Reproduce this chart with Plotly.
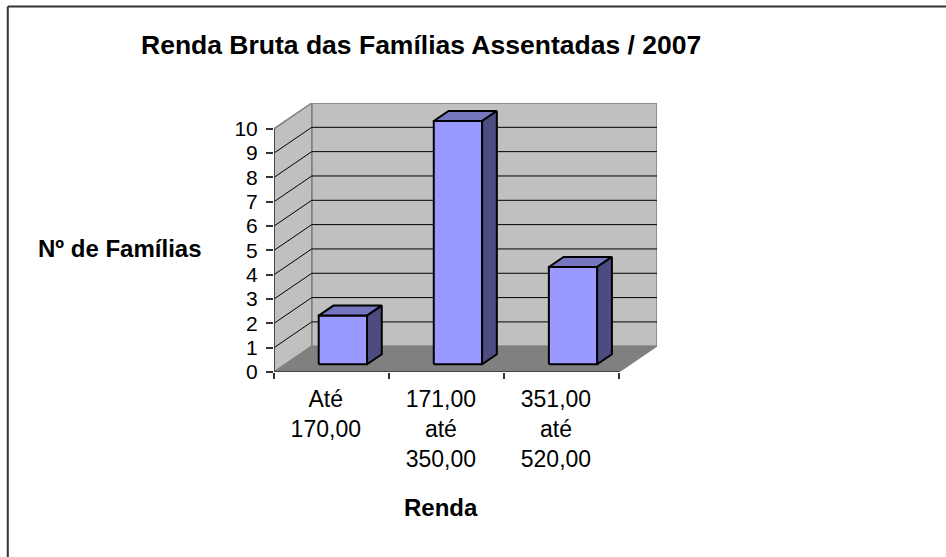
import plotly.graph_objects as go

# ---- data ----
categories = ["Até<br>170,00", "171,00<br>até<br>350,00", "351,00<br>até<br>520,00"]
familias = [2, 10, 4]
y_ticks = list(range(0, 11))
title_text = "Renda Bruta das Famílias Assentadas / 2007"
y_title = "Nº de Famílias"
x_title = "Renda"

# ---- styling / geometry ----
W, H = 946, 557
L, R, T, B = 274, 289.3, 103, 185.3
DX, DY = 0.328, 1.059          # depth vector (data units)
F_FRONT, F_BACK = 0.30, 0.69   # bar depth position (fraction of depth)
BW = 0.42                      # bar width (category units)
YMAX = 10
FONT = "Arial, Liberation Sans, sans-serif"
FRONT_C, TOP_C, SIDE_C = "#9999FF", "#7575C0", "#4C4C80"
WALL_C, FLOOR_C, WALL_LINE = "#C0C0C0", "#808080", "#808080"

n = len(categories)
x0, x1 = -0.5, n - 0.5

fig = go.Figure()

def poly(xs, ys, fill, line_color, lw):
    fig.add_trace(go.Scatter(
        x=list(xs) + [xs[0]], y=list(ys) + [ys[0]], mode="lines", fill="toself",
        fillcolor=fill, line=dict(color=line_color, width=lw),
        hoverinfo="skip", showlegend=False))

def seg(xs, ys, color, lw):
    fig.add_trace(go.Scatter(x=xs, y=ys, mode="lines", line=dict(color=color, width=lw),
                             hoverinfo="skip", showlegend=False))

# back wall
poly([x0 + DX, x1 + DX, x1 + DX, x0 + DX], [DY, DY, YMAX + DY, YMAX + DY], WALL_C, WALL_LINE, 1.5)
# side wall
poly([x0, x0 + DX, x0 + DX, x0], [0, DY, YMAX + DY, YMAX], WALL_C, WALL_LINE, 1.5)
# floor
poly([x0, x1, x1 + DX, x0 + DX], [0, 0, DY, DY], FLOOR_C, FLOOR_C, 1)

# gridlines
for v in y_ticks:
    if v == 0 or v == YMAX:
        continue
    seg([x0, x0 + DX, x1 + DX], [v, v + DY, v + DY], "black", 1)

# front axis lines
seg([x0, x0], [0, YMAX], "#333333", 1.5)
seg([x0, x1], [0, 0], "#333333", 1.5)

# bars
for i, v in enumerate(familias):
    xl, xr = i - BW / 2, i + BW / 2
    fx, fy = F_FRONT * DX, F_FRONT * DY
    bx, by = F_BACK * DX, F_BACK * DY
    poly([xl + fx, xr + fx, xr + fx, xl + fx], [fy, fy, v + fy, v + fy], FRONT_C, "black", 2)
    poly([xl + fx, xr + fx, xr + bx, xl + bx], [v + fy, v + fy, v + by, v + by], TOP_C, "black", 2)
    poly([xr + fx, xr + bx, xr + bx, xr + fx], [fy, by, v + by, v + fy], SIDE_C, "black", 2)

pw, ph = W - L - R, H - T - B
def px(x):
    return (x - L) / pw
def py(y):
    return (H - y - B) / ph

annotations = [
    dict(text=f"<b>{title_text}</b>", x=px(421), y=py(45), font=dict(size=26.5)),
    dict(text=f"<b>{y_title}</b>", x=px(120), y=py(248), font=dict(size=24)),
    dict(text=f"<b>{x_title}</b>", x=px(441), y=py(507), font=dict(size=24)),
]
for a in annotations:
    a.update(xref="paper", yref="paper", showarrow=False, xanchor="center", yanchor="middle")
    a["font"].update(family=FONT, color="black")

border = dict(color="#333333", width=2)
fig.update_layout(
    width=W, height=H,
    margin=dict(l=L, r=R, t=T, b=B, pad=0),
    paper_bgcolor="white", plot_bgcolor="white",
    showlegend=False,
    annotations=annotations,
    font=dict(family=FONT, color="black"),
    shapes=[
        dict(type="line", xref="paper", yref="paper",
             x0=px(8), y0=py(6.5), x1=px(W), y1=py(6.5), line=border),
        dict(type="line", xref="paper", yref="paper",
             x0=px(8), y0=py(6.5), x1=px(8), y1=py(H), line=border),
    ],
)
fig.update_xaxes(
    range=[x0, x1 + DX], showgrid=False, zeroline=False, showline=False,
    tickmode="array", tickvals=[i - 0.05 for i in range(n)], ticktext=categories,
    ticks="", tickfont=dict(size=23, family=FONT, color="black"),
    ticklabelstandoff=11,
    minor=dict(tickmode="array", tickvals=[x0 + k for k in range(n + 1)], ticks="outside",
               ticklen=6, tickcolor="#333333", tickwidth=1.5, showgrid=False),
    fixedrange=True,
)
fig.update_yaxes(
    range=[0, YMAX + DY], showgrid=False, zeroline=False, showline=False,
    tickmode="array", tickvals=y_ticks, ticks="outside", ticklen=7, tickwidth=1.5,
    tickcolor="#333333", tickfont=dict(size=21, family=FONT, color="black"),
    ticklabelstandoff=4, fixedrange=True,
)

fig.write_html(
    "out.html",
    config={"displayModeBar": False},
    post_script="document.body.style.margin='0px';document.body.style.overflow='hidden';",
)
